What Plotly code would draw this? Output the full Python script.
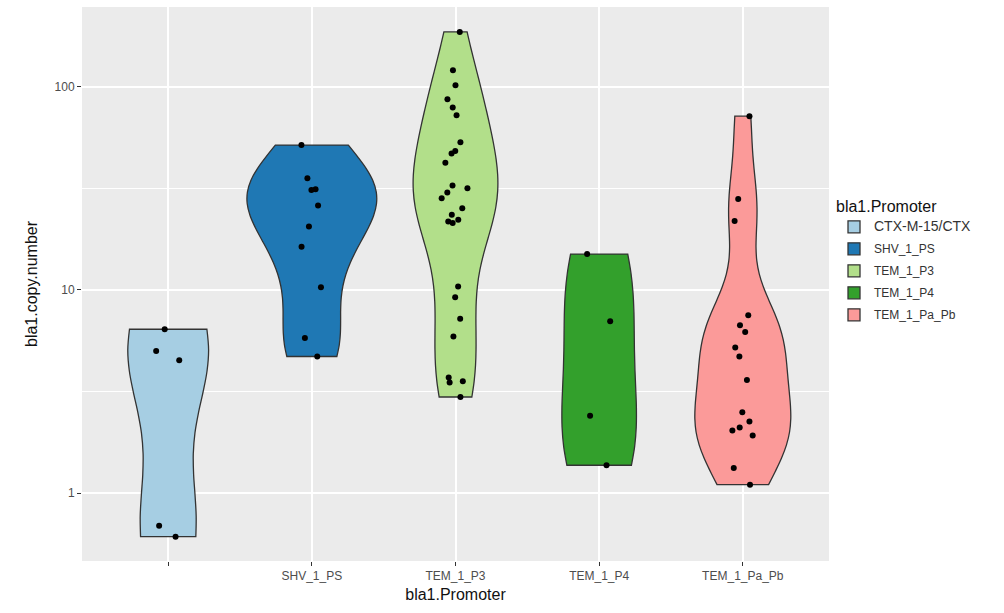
import numpy as np
import plotly.graph_objects as go

# ---------------- data ----------------
categories = ["CTX-M-15/CTX", "SHV_1_PS", "TEM_1_P3", "TEM_1_P4", "TEM_1_Pa_Pb"]
tick_labels = ["", "SHV_1_PS", "TEM_1_P3", "TEM_1_P4", "TEM_1_Pa_Pb"]
colors = ["#A6CEE3", "#1F78B4", "#B2DF8A", "#33A02C", "#FB9A99"]

ctx_values = [6.4, 5.0, 4.5, 0.69, 0.61]
shv_values = [51.6, 35.4, 31.3, 31.0, 26.0, 20.5, 16.3, 10.3, 5.8, 4.7]
p3_values = [186, 120.5, 101.7, 86.8, 79, 72.4, 53.2, 48.2, 46.9, 42.2,
             32.6, 31.6, 30.1, 28.2, 25.2, 23.4, 22.1, 21.7, 21.3,
             10.4, 9.2, 7.2, 5.9, 3.7, 3.55, 3.5, 2.97]
p4_values = [15.0, 7.0, 2.4, 1.37]
papb_values = [71.6, 28.0, 21.8, 7.5, 6.7, 6.2, 5.2, 4.7, 3.6, 2.5,
               2.25, 2.1, 2.03, 1.92, 1.33, 1.1]

series = [ctx_values, shv_values, p3_values, p4_values, papb_values]

y_tick_values = [1, 10, 100]
y_tick_labels = ["1", "10", "100"]
y_minor_values = [10 ** 0.5, 10 ** 1.5]
y_limits = [0.463, 246.6]


def nrd0(vals):
    x = np.asarray(vals, dtype=float)
    n = len(x)
    sd = np.std(x, ddof=1)
    q75, q25 = np.percentile(x, [75, 25])
    lo = min(sd, (q75 - q25) / 1.34)
    if lo == 0:
        lo = sd if sd else (abs(x[0]) if x[0] else 1.0)
    return 0.9 * lo * n ** -0.2


fig = go.Figure()
for i, (cat, vals, col) in enumerate(zip(categories, series, colors)):
    logv = np.log10(vals)
    legend_name = cat if i else '<span style="font-size:14px">%s</span>' % cat
    fig.add_trace(go.Violin(
        x=[i] * len(vals),
        y=logv,
        name=legend_name,
        legendgroup=cat,
        fillcolor=col,
        line=dict(color="#333333", width=1.3),
        points="all",
        pointpos=0,
        jitter=0.22,
        marker=dict(color="black", size=6, line=dict(width=0)),
        spanmode="hard",
        bandwidth=nrd0(logv),
        scalegroup="all",
        scalemode="width",
        box=dict(visible=False),
        meanline=dict(visible=False),
        showlegend=True,
        opacity=1,
    ))

fig.update_layout(
    width=1004,
    height=613,
    margin=dict(l=82, r=175, t=7, b=52, autoexpand=False),
    paper_bgcolor="white",
    plot_bgcolor="#EBEBEB",
    violinmode="overlay",
    violingap=0.1,
    violingroupgap=0,
    font=dict(family="Liberation Sans, Arial, sans-serif", color="#4D4D4D"),
    xaxis=dict(
        range=[-0.6, 4.6],
        tickmode="array",
        tickvals=list(range(len(categories))),
        ticktext=tick_labels,
        showgrid=True,
        gridcolor="white",
        gridwidth=1.6,
        zeroline=False,
        ticks="outside",
        ticklen=4,
        tickwidth=1,
        tickcolor="#333333",
        tickfont=dict(size=12, color="#4D4D4D"),
        title=dict(text="bla1.Promoter", font=dict(size=16, color="#111111"), standoff=6),
        showline=False,
    ),
    yaxis=dict(
        range=[float(np.log10(y_limits[0])), float(np.log10(y_limits[1]))],
        tickmode="array",
        tickvals=[float(np.log10(v)) for v in y_tick_values],
        ticktext=y_tick_labels,
        showgrid=True,
        gridcolor="white",
        gridwidth=1.6,
        zeroline=False,
        ticks="outside",
        ticklen=4,
        tickwidth=1,
        tickcolor="#333333",
        tickfont=dict(size=12, color="#4D4D4D"),
        title=dict(text="bla1.copy.number", font=dict(size=16, color="#111111"), standoff=12),
        minor=dict(
            tickmode="array",
            tickvals=[float(np.log10(v)) for v in y_minor_values],
            showgrid=True,
            gridcolor="white",
            gridwidth=0.8,
            ticks="",
        ),
        showline=False,
    ),
    legend=dict(
        x=1.0067,
        xanchor="left",
        y=0.667,
        yanchor="top",
        traceorder="grouped",
        title=dict(text="bla1.Promoter", font=dict(size=16, color="#111111")),
        font=dict(size=12, color="#333333"),
        bgcolor="rgba(0,0,0,0)",
        tracegroupgap=3,
    ),
)

fig.write_html("out.html")
